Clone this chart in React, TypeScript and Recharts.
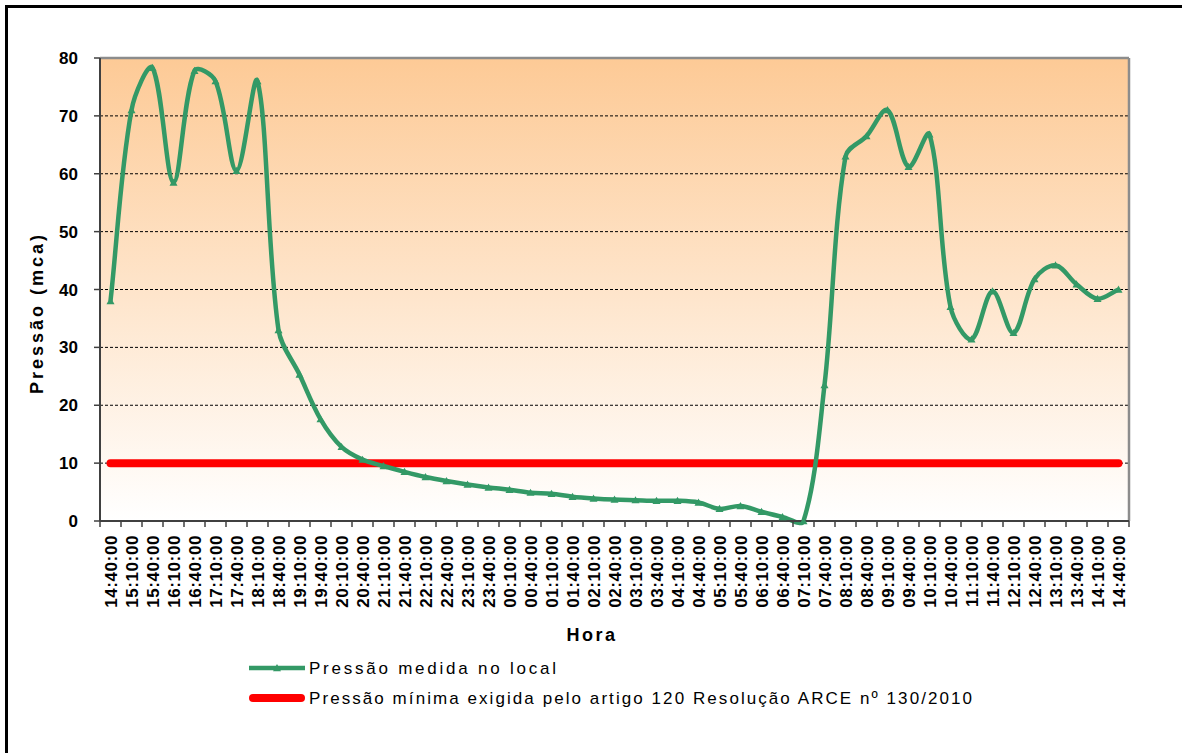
// @ts-nocheck
import { LineChart, Line, XAxis, YAxis, CartesianGrid, ReferenceLine } from "recharts";

const TIMES = [
  "14:40:00", "15:10:00", "15:40:00", "16:10:00", "16:40:00", "17:10:00", "17:40:00",
  "18:10:00", "18:40:00", "19:10:00", "19:40:00", "20:10:00", "20:40:00", "21:10:00",
  "21:40:00", "22:10:00", "22:40:00", "23:10:00", "23:40:00", "00:10:00", "00:40:00",
  "01:10:00", "01:40:00", "02:10:00", "02:40:00", "03:10:00", "03:40:00", "04:10:00",
  "04:40:00", "05:10:00", "05:40:00", "06:10:00", "06:40:00", "07:10:00", "07:40:00",
  "08:10:00", "08:40:00", "09:10:00", "09:40:00", "10:10:00", "10:40:00", "11:10:00",
  "11:40:00", "12:10:00", "12:40:00", "13:10:00", "13:40:00", "14:10:00", "14:40:00",
];

// Pressão medida no local (mca)
const PRESSURE = [
  38, 71, 78.3, 58.5, 77.8, 76, 60.5,
  76, 33, 25.3, 17.6, 12.8, 10.6, 9.5,
  8.5, 7.6, 6.9, 6.3, 5.8, 5.4, 4.9,
  4.7, 4.2, 3.9, 3.7, 3.6, 3.5, 3.5,
  3.2, 2.1, 2.6, 1.6, 0.7, 0, 23.5,
  63, 66.5, 71, 61.2, 66.8, 37, 31.4,
  39.7, 32.5, 41.8, 44.2, 40.9, 38.4, 40,
];

// Pressão mínima exigida (mca)
const MINIMUM = [
  10, 10, 10, 10, 10, 10, 10,
  10, 10, 10, 10, 10, 10, 10,
  10, 10, 10, 10, 10, 10, 10,
  10, 10, 10, 10, 10, 10, 10,
  10, 10, 10, 10, 10, 10, 10,
  10, 10, 10, 10, 10, 10, 10,
  10, 10, 10, 10, 10, 10, 10,
];

const Y_TICKS = [0, 10, 20, 30, 40, 50, 60, 70, 80];
const GRID_VALUES = [10, 20, 30, 40, 50, 60, 70];

const data = TIMES.map((t, i) => ({ i, t, pressao: PRESSURE[i], minimo: MINIMUM[i] }));

const W = 1182;
const H = 753;
const MARGIN = { top: 58, right: 53, bottom: 132, left: 0 };
const Y_W = 100;
const X_H = 100;
const BAND = (W - MARGIN.left - MARGIN.right - Y_W) / TIMES.length;

const GREEN = "#339966";
const RED = "#ff0000";
const AXIS = "#404040";
const FONT = "'Liberation Sans', Arial, sans-serif";

// excel-like smoothing: bezier with tangents split by neighbouring segment lengths
function excelCurve(ctx) {
  let pts = [];
  const dist = (a, b) => Math.hypot(b[0] - a[0], b[1] - a[1]) || 1e-6;
  return {
    areaStart() {},
    areaEnd() {},
    lineStart() {
      pts = [];
    },
    point(x, y) {
      pts.push([+x, +y]);
    },
    lineEnd() {
      if (!pts.length) return;
      ctx.moveTo(pts[0][0], pts[0][1]);
      for (let k = 0; k < pts.length - 1; k++) {
        const p0 = pts[k - 1] || pts[k];
        const p1 = pts[k];
        const p2 = pts[k + 1];
        const p3 = pts[k + 2] || p2;
        const d01 = dist(p0, p1);
        const d12 = dist(p1, p2);
        const d23 = dist(p2, p3);
        const f1 = (d12 / (d01 + d12)) / 3;
        const f2 = (d12 / (d12 + d23)) / 3;
        ctx.bezierCurveTo(
          p1[0] + (p2[0] - p0[0]) * f1,
          p1[1] + (p2[1] - p0[1]) * f1,
          p2[0] - (p3[0] - p1[0]) * f2,
          p2[1] - (p3[1] - p1[1]) * f2,
          p2[0],
          p2[1]
        );
      }
    },
  };
}

const Tri = ({ cx, cy, index, size = 4 }) => {
  if (cx == null || cy == null) return null;
  return (
    <polygon
      key={`tri-${index}`}
      points={`${cx - size},${cy + size * 0.8} ${cx + size},${cy + size * 0.8} ${cx},${cy - size}`}
      fill={GREEN}
    />
  );
};

const XTick = ({ x, y, payload }) => {
  const last = payload.value === TIMES.length - 1;
  return (
    <g>
      <line x1={x - BAND / 2} x2={x - BAND / 2} y1={y} y2={y + 6} stroke={AXIS} strokeWidth={1.5} />
      {last && <line x1={x + BAND / 2} x2={x + BAND / 2} y1={y} y2={y + 6} stroke={AXIS} strokeWidth={1.5} />}
      <text
        transform={`translate(${x},${y + 14}) rotate(-90)`}
        textAnchor="end"
        dy="0.36em"
        fontSize={17}
        fontWeight="bold"
        fontFamily={FONT}
        letterSpacing={0.6}
        fill="#000"
      >
        {TIMES[payload.value]}
      </text>
    </g>
  );
};

export default function App() {
  return (
    <div style={{ position: "absolute", left: 0, top: 0, width: W, height: H, background: "#fff" }}>
      <div style={{ position: "absolute", left: 5, top: 5, width: W - 5, height: 3, background: "#000" }} />
      <div style={{ position: "absolute", left: 5, top: 5, width: 3, height: H - 5, background: "#000" }} />
      <LineChart width={W} height={H} data={data} margin={MARGIN}>
        <defs>
          <linearGradient id="bgGrad" x1="0" y1="0" x2="0" y2="1">
            <stop offset="0%" stopColor="#fdca96" />
            <stop offset="100%" stopColor="#ffffff" />
          </linearGradient>
        </defs>
        <CartesianGrid
          vertical={false}
          horizontalValues={GRID_VALUES}
          stroke="#000"
          strokeDasharray="3 2"
          fill="url(#bgGrad)"
          fillOpacity={1}
        />
        <XAxis
          dataKey="i"
          type="number"
          domain={[-0.5, TIMES.length - 0.5]}
          ticks={data.map((d) => d.i)}
          interval={0}
          height={X_H}
          tickSize={0}
          tickMargin={0}
          tickLine={false}
          axisLine={{ stroke: AXIS, strokeWidth: 2 }}
          tick={<XTick />}
          label={{
            content: () => (
              <text x={592} y={635} textAnchor="middle" dominantBaseline="central" fontSize={18} fontWeight="bold" fontFamily={FONT} letterSpacing={2.5}>
                Hora
              </text>
            ),
          }}
        />
        <YAxis
          domain={[0, 80]}
          ticks={Y_TICKS}
          interval={0}
          width={Y_W}
          tickSize={6}
          tickMargin={16}
          tickLine={{ stroke: AXIS, strokeWidth: 1.5 }}
          axisLine={{ stroke: AXIS, strokeWidth: 2 }}
          tick={{ fontSize: 17, fontWeight: "bold", fill: "#000", fontFamily: FONT }}
          label={{
            content: () => (
              <text
                transform="translate(37,313) rotate(-90)"
                textAnchor="middle"
                dominantBaseline="central"
                fontSize={18}
                fontWeight="bold"
                fontFamily={FONT}
                letterSpacing={3}
              >
                Pressão (mca)
              </text>
            ),
          }}
        />
        <ReferenceLine y={80} stroke="#8c8c8c" strokeWidth={2.5} />
        <ReferenceLine x={TIMES.length - 0.5} stroke="#8c8c8c" strokeWidth={2.5} />
        <Line
          dataKey="minimo"
          type="linear"
          stroke={RED}
          strokeWidth={8}
          strokeLinecap="round"
          dot={false}
          activeDot={false}
          isAnimationActive={false}
        />
        <Line
          dataKey="pressao"
          type={excelCurve}
          stroke={GREEN}
          strokeWidth={4.5}
          dot={<Tri />}
          activeDot={false}
          isAnimationActive={false}
        />
      </LineChart>
      <svg width={W} height={H} style={{ position: "absolute", left: 0, top: 0, pointerEvents: "none" }}>
        <line x1={249} x2={305} y1={668} y2={668} stroke={GREEN} strokeWidth={4.5} />
        <Tri cx={277} cy={668} index={0} />
        <text x={309} y={668} dominantBaseline="central" fontSize={17} fontFamily={FONT} textLength={247} lengthAdjust="spacing">
          Pressão medida no local
        </text>
        <line x1={253} x2={301} y1={698} y2={698} stroke={RED} strokeWidth={8} strokeLinecap="round" />
        <text x={309} y={698} dominantBaseline="central" fontSize={17} fontFamily={FONT} textLength={663} lengthAdjust="spacing">
          Pressão mínima exigida pelo artigo 120 Resolução ARCE nº 130/2010
        </text>
      </svg>
    </div>
  );
}
